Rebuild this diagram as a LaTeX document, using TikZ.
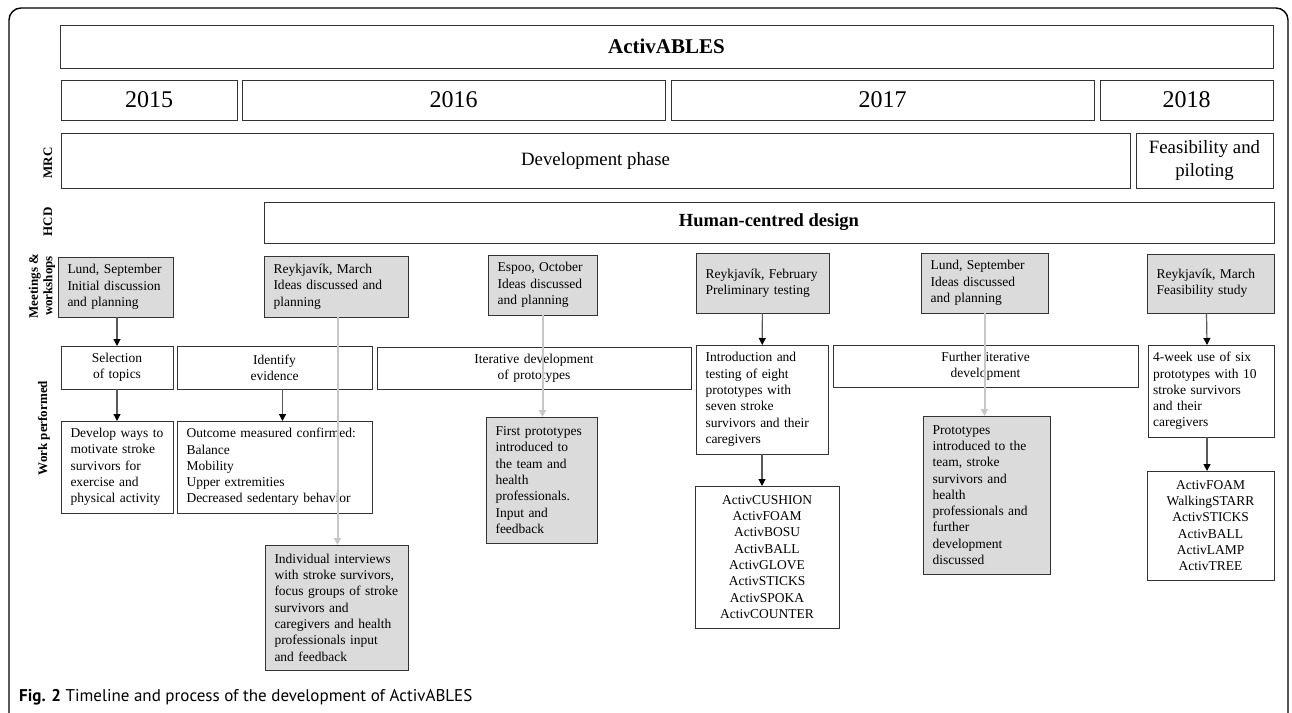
\documentclass[tikz,border=0pt]{standalone}
\usepackage{fontspec}
\setmainfont{Liberation Serif}
\newfontfamily\capfont{PT Sans}
\usetikzlibrary{arrows.meta}

\tikzset{
  box/.style={draw=black!80, line width=0.9pt, rectangle, inner sep=0pt, outer sep=0pt},
  yearbox/.style={box, font=\fontsize{24}{28}\selectfont},
  phasebox/.style={box, align=center, font=\fontsize{18.8}{23}\selectfont},
  meetbox/.style={box, fill=black!14, align=left, inner xsep=9.5pt, font=\fontsize{13.5}{16.3}\selectfont},
  workbox/.style={box, fill=white, align=center, inner xsep=4pt, font=\fontsize{13.5}{16.3}\selectfont},
  worktext/.style={workbox, align=left, inner xsep=9.5pt},
  rowlabel/.style={rotate=90, align=center, font=\bfseries\fontsize{13}{14.5}\selectfont},
  flow/.style={draw=black!65, line width=1.2pt, -{Triangle[length=7pt,width=7pt,black]}},
  feedback/.style={draw=black!22, line width=2pt, -{Triangle[length=7pt,width=7pt]}}
}

\begin{document}
\begin{tikzpicture}[x=1pt, y=-1pt]
  \useasboundingbox (0,0) rectangle (1292,712);
  \draw[line width=1.4pt, rounded corners=12pt] (9,760) -- (9,8) -- (1288,8) -- (1288,760);

  % header rows
  \node[box, minimum width=1213, minimum height=43, font=\bfseries\fontsize{21}{25}\selectfont] (title) at (666.5,46.5) {ActivABLES};
  \node[yearbox, minimum width=176, minimum height=40] (y15) at (149,100) {2015};
  \node[yearbox, minimum width=423, minimum height=40] (y16) at (453.5,100) {2016};
  \node[yearbox, minimum width=423, minimum height=40] (y17) at (882.5,100) {2017};
  \node[yearbox, minimum width=173, minimum height=40] (y18) at (1186.5,100) {2018};
  \node[phasebox, minimum width=1069, minimum height=55] (dev) at (595.5,160.5) {Development phase};
  \node[phasebox, minimum width=137, minimum height=55] (feas) at (1204.5,160.5) {Feasibility and\\piloting};
  \node[box, minimum width=1010, minimum height=41, font=\bfseries\fontsize{18.5}{22}\selectfont] (hcd) at (769,222.5) {Human-centred design};

  % row labels
  \node[rowlabel] (lmrc) at (48,163) {MRC};
  \node[rowlabel] (lhcd) at (48,222) {HCD};
  \node[rowlabel] (lmeet) at (42,286) {Meetings \&\\workshops};
  \node[rowlabel] (lwork) at (44,428) {Work performed};

  % meetings and workshops
  \node[meetbox, text width=96, minimum height=60] (m1) at (115.5,287) {Lund, September\\Initial discussion\\and planning};
  \node[meetbox, text width=125, minimum height=61] (m2) at (336,286.5) {Reykjavík, March\\Ideas discussed and\\planning};
  \node[meetbox, text width=90, minimum height=60] (m3) at (542.5,285) {Espoo, October\\Ideas discussed\\and planning};
  \node[meetbox, text width=114, minimum height=60] (m4) at (762.5,283) {Reykjavík, February\\Preliminary testing};
  \node[meetbox, text width=108, minimum height=60] (m5) at (984.5,283) {Lund, September\\Ideas discussed\\and planning};
  \node[meetbox, text width=108, minimum height=59] (m6) at (1210.5,283.5) {Reykjavík, March\\Feasibility study};

  % work performed
  \node[workbox, text width=104, minimum height=43] (w1) at (117,367.5) {Selection\\of topics};
  \node[workbox, text width=187, minimum height=43] (w2) at (274.5,367.5) {Identify\\evidence};
  \node[workbox, text width=306, minimum height=42] (w3) at (534,368) {Iterative development\\of prototypes};
  \node[worktext, text width=113, minimum height=109] (w4) at (762,399.5) {Introduction and\\testing of eight\\prototypes with\\seven stroke\\survivors and their\\caregivers};
  \node[workbox, text width=297, minimum height=42] (w5) at (985.5,366) {Further iterative\\development};
  \node[worktext, inner xsep=5pt, text width=116, minimum height=92] (w6) at (1211,391) {4-week use of six\\prototypes with 10\\stroke survivors\\and their\\caregivers};

  \node[worktext, text width=93, minimum height=92] (r1) at (117,467) {Develop ways to\\motivate stroke\\survivors for\\exercise and\\physical activity};
  \node[worktext, text width=176, minimum height=92] (r2) at (274.5,467) {Outcome measured confirmed:\\Balance\\Mobility\\Upper extremities\\Decreased sedentary behavior};
  \node[meetbox, text width=124, minimum height=125] (r3) at (336.5,607.5) {Individual interviews\\with stroke survivors,\\focus groups of stroke\\survivors and\\caregivers and health\\professionals input\\and feedback};
  \node[meetbox, text width=92, minimum height=126] (r4) at (541.5,480) {First prototypes\\introduced to\\the team and\\health\\professionals.\\Input and\\feedback};
  \node[workbox, text width=136, minimum height=142] (r5) at (767,557) {ActivCUSHION\\ActivFOAM\\ActivBOSU\\ActivBALL\\ActivGLOVE\\ActivSTICKS\\ActivSPOKA\\ActivCOUNTER};
  \node[meetbox, text width=108, minimum height=158] (r6) at (986.5,495) {Prototypes\\introduced to the\\team, stroke\\survivors and\\health\\professionals and\\further\\development\\discussed};
  \node[workbox, text width=119, minimum height=109] (r7) at (1210.5,525.5) {ActivFOAM\\WalkingSTARR\\ActivSTICKS\\ActivBALL\\ActivLAMP\\ActivTREE};

  % caption
  \node[anchor=west, inner sep=0pt, font=\capfont\fontsize{17}{20}\selectfont] (cap) at (19,697) {\textbf{Fig. 2} Timeline and process of the development of ActivABLES};

  % arrows
  \draw[flow] (w1.north |- m1.south) -- (w1.north);
  \draw[flow] (w1) -- (r1);
  \draw[flow] ([xshift=8pt]w2.south) -- ([xshift=8pt]r2.north);
  \draw[flow] (m4) -- (w4);
  \draw[flow] (w4.south) -- (w4.south |- r5.north);
  \draw[flow] ([xshift=-4pt]m6.south) -- ([xshift=-4pt]w6.north);
  \draw[flow] ([xshift=-4pt]w6.south) -- ([xshift=-4pt]w6.south |- r7.north);
  \draw[feedback] ([xshift=1.5pt]m2.south) -- ([xshift=1.5pt]m2.south |- r3.north);
  \draw[feedback] (m3.south) -- (m3.south |- r4.north);
  \draw[feedback] (m5.south) -- (m5.south |- r6.north);
\end{tikzpicture}
\end{document}
